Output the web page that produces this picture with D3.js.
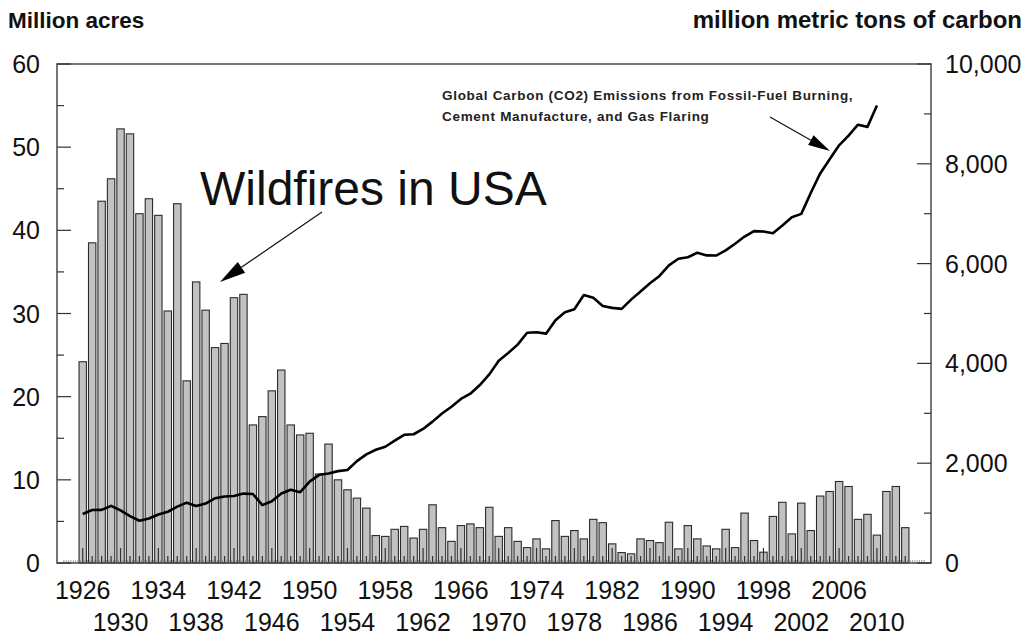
<!DOCTYPE html>
<html>
<head>
<meta charset="utf-8">
<script src="https://cdn.jsdelivr.net/npm/d3@7"></script>
<style>
  body { margin: 0; background: #fff; }
  svg { display: block; font-family: "Liberation Sans", Arial, sans-serif; }
</style>
</head>
<body>
<script>
// wildfire area burned, million acres, 1926-2013
const fireYears = d3.range(1926, 2014);
const fireAcres = [
  24.2, 38.5, 43.5, 46.2, 52.2, 51.6, 42.0, 43.8, 41.8, 30.3,
  43.2, 21.9, 33.8, 30.4, 25.9, 26.4, 31.9, 32.3, 16.6, 17.6,
  20.7, 23.2, 16.6, 15.4, 15.6, 10.7, 14.3, 10.0, 8.8, 7.8,
  6.6, 3.3, 3.2, 4.05, 4.4, 3.0, 4.05, 7.0, 4.25, 2.6,
  4.5, 4.7, 4.25, 6.7, 3.2, 4.25, 2.6, 1.85, 2.9, 1.7,
  5.1, 3.2, 3.9, 2.9, 5.25, 4.85, 2.3, 1.25, 1.1, 2.9,
  2.7, 2.45, 4.9, 1.7, 4.5, 2.9, 2.05, 1.7, 4.05, 1.85,
  6.0, 2.7, 1.3, 5.6, 7.3, 3.5, 7.2, 3.9, 8.05, 8.6,
  9.8, 9.2, 5.25, 5.85, 3.35, 8.6, 9.2, 4.25
];

// global carbon emissions, million metric tons of carbon, 1926-2010
const carbonYears = d3.range(1926, 2011);
const carbonTons = [
  983, 1062, 1065, 1145, 1053, 940, 847, 893, 973, 1027,
  1130, 1209, 1142, 1192, 1299, 1334, 1342, 1391, 1383, 1160,
  1238, 1392, 1469, 1419, 1630, 1767, 1795, 1841, 1865, 2042,
  2177, 2270, 2330, 2454, 2569, 2580, 2686, 2833, 2995, 3130,
  3288, 3393, 3566, 3780, 4053, 4208, 4376, 4614, 4623, 4596,
  4864, 5026, 5087, 5369, 5315, 5152, 5113, 5093, 5278, 5439,
  5606, 5752, 5965, 6097, 6127, 6217, 6164, 6162, 6266, 6398,
  6542, 6651, 6643, 6610, 6765, 6927, 6996, 7416, 7807, 8093,
  8370, 8566, 8783, 8740, 9167
];

const leftTicks = [0, 10, 20, 30, 40, 50, 60];
const rightTicks = [0, 2000, 4000, 6000, 8000, 10000];

const width = 1029, height = 637;
const margin = {top: 64, right: 98, bottom: 74, left: 57};
const w = width - margin.left - margin.right;
const h = height - margin.top - margin.bottom;

const svg = d3.select("body").append("svg")
  .attr("width", width)
  .attr("height", height);

const g = svg.append("g")
  .attr("transform", `translate(${margin.left},${margin.top})`);

let x = d3.scaleBand()
  .domain(fireYears)
  .range([0, w])
  .paddingInner(0.22)
  .paddingOuter(2.33);

const step = x.step();
const xc = (yr) => x(fireYears[0]) + x.bandwidth() / 2 + (yr - fireYears[0]) * step;

let yLeft = d3.scaleLinear().domain([0, 60]).range([h, 0]);
let yRight = d3.scaleLinear().domain([0, 10000]).range([h, 0]);

// bars
g.selectAll("rect.bar")
  .data(fireYears)
  .enter()
  .append("rect")
    .attr("class", "bar")
    .attr("x", (d) => x(d))
    .attr("y", (d, i) => yLeft(fireAcres[i]))
    .attr("width", x.bandwidth())
    .attr("height", (d, i) => h - yLeft(fireAcres[i]))
    .attr("fill", "#c2c2c2")
    .attr("stroke", "#2b2b2b")
    .attr("stroke-width", 1.1);

// dense strip of small ticks along the bottom
let quarterTicks = d3.range(fireYears[0] - 2, fireYears[fireYears.length - 1] + 2.01, 0.25);
g.append("g")
  .selectAll("line")
  .data(quarterTicks)
  .enter()
  .append("line")
    .attr("x1", (d) => xc(d))
    .attr("x2", (d) => xc(d))
    .attr("y1", h)
    .attr("y2", h - 3)
    .attr("stroke", "#777")
    .attr("stroke-width", 0.7);

// year ticks, pointing up into the plot
g.append("g")
  .selectAll("line")
  .data(fireYears)
  .enter()
  .append("line")
    .attr("x1", (d) => xc(d))
    .attr("x2", (d) => xc(d))
    .attr("y1", h)
    .attr("y2", (d) => (d - 1926) % 4 === 0 ? h - 15 : h - 7)
    .attr("stroke", "#333")
    .attr("stroke-width", 1.2);

// carbon line
let line = d3.line()
  .x((d, i) => xc(carbonYears[i]))
  .y((d) => yRight(d));

g.append("path")
  .datum(carbonTons)
  .attr("d", line)
  .attr("fill", "none")
  .attr("stroke", "#000")
  .attr("stroke-width", 2.6)
  .attr("stroke-linejoin", "round");

// frame
g.append("rect")
  .attr("width", w)
  .attr("height", h)
  .attr("fill", "none")
  .attr("stroke", "#4a4a4a")
  .attr("stroke-width", 1.5);

// left axis ticks (inward) and labels
let leftMinor = d3.range(0, 61, 5);
g.append("g")
  .selectAll("line")
  .data(leftMinor)
  .enter()
  .append("line")
    .attr("x1", 0)
    .attr("x2", (d) => d % 10 === 0 ? 14 : 7)
    .attr("y1", (d) => yLeft(d))
    .attr("y2", (d) => yLeft(d))
    .attr("stroke", "#333")
    .attr("stroke-width", 1.2);

g.append("g")
  .selectAll("text")
  .data(leftTicks)
  .enter()
  .append("text")
    .attr("x", -17)
    .attr("y", (d) => yLeft(d))
    .attr("dy", "0.36em")
    .attr("text-anchor", "end")
    .attr("font-size", 25)
    .attr("fill", "#111")
    .text((d) => d);

// right axis ticks (inward) and labels
let rightMinor = d3.range(0, 10001, 1000);
g.append("g")
  .selectAll("line")
  .data(rightMinor)
  .enter()
  .append("line")
    .attr("x1", w)
    .attr("x2", (d) => d % 2000 === 0 ? w - 14 : w - 7)
    .attr("y1", (d) => yRight(d))
    .attr("y2", (d) => yRight(d))
    .attr("stroke", "#333")
    .attr("stroke-width", 1.2);

g.append("g")
  .selectAll("text")
  .data(rightTicks)
  .enter()
  .append("text")
    .attr("x", w + 14)
    .attr("y", (d) => yRight(d))
    .attr("dy", "0.36em")
    .attr("text-anchor", "start")
    .attr("font-size", 25)
    .attr("fill", "#111")
    .text((d) => d3.format(",")(d));

// year labels in two staggered rows
let labelYears = fireYears.filter((d) => (d - 1926) % 4 === 0 && d <= 2010);
g.append("g")
  .selectAll("text")
  .data(labelYears)
  .enter()
  .append("text")
    .attr("x", (d) => xc(d))
    .attr("y", (d) => (d - 1926) % 8 === 0 ? h + 36 : h + 68)
    .attr("text-anchor", "middle")
    .attr("font-size", 25)
    .attr("fill", "#111")
    .text((d) => d);

// axis titles
svg.append("text")
  .attr("x", 8)
  .attr("y", 28)
  .attr("font-size", 22.5)
  .attr("font-weight", "bold")
  .attr("fill", "#111")
  .text("Million acres");

svg.append("text")
  .attr("x", 1022)
  .attr("y", 28)
  .attr("text-anchor", "end")
  .attr("font-size", 24)
  .attr("font-weight", "bold")
  .attr("fill", "#111")
  .text("million metric tons of carbon");

// annotations
function arrow(x1, y1, x2, y2, headLen, headW) {
  let ang = Math.atan2(y2 - y1, x2 - x1);
  let bx = x2 - headLen * Math.cos(ang), by = y2 - headLen * Math.sin(ang);
  let px = -Math.sin(ang) * headW / 2, py = Math.cos(ang) * headW / 2;
  svg.append("line")
    .attr("x1", x1).attr("y1", y1)
    .attr("x2", bx).attr("y2", by)
    .attr("stroke", "#111")
    .attr("stroke-width", 1.2);
  svg.append("polygon")
    .attr("points", `${x2},${y2} ${bx + px},${by + py} ${bx - px},${by - py}`)
    .attr("fill", "#000");
}

svg.append("text")
  .attr("x", 200)
  .attr("y", 205)
  .attr("font-size", 48)
  .attr("fill", "#111")
  .text("Wildfires in USA");

arrow(322, 212, 220, 282, 26, 13);

let note = svg.append("text")
  .attr("x", 442)
  .attr("font-size", 13.5)
  .attr("font-weight", "bold")
  .attr("letter-spacing", 0.7)
  .attr("fill", "#222");
note.append("tspan").attr("x", 442).attr("y", 100)
  .text("Global Carbon (CO2) Emissions from Fossil-Fuel Burning,");
note.append("tspan").attr("x", 442).attr("y", 121)
  .text("Cement Manufacture, and Gas Flaring");

arrow(770, 117, 830, 151, 22, 11);
</script>
</body>
</html>
